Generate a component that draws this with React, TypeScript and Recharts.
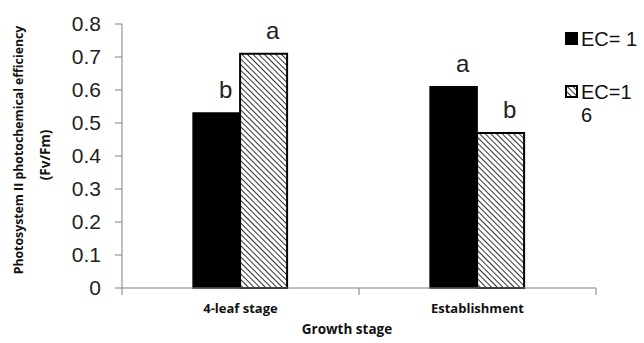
import React from 'react';
import { BarChart, Bar, XAxis, YAxis, Legend, LabelList } from 'recharts';

// PSII efficiency by growth stage, two salinity levels
const stages = ['4-leaf stage', 'Establishment'];
const ec1 = [0.53, 0.61];
const ec16 = [0.71, 0.47];
const ec1Letters = ['b', 'a'];
const ec16Letters = ['a', 'b'];
const yTicks = [0, 0.1, 0.2, 0.3, 0.4, 0.5, 0.6, 0.7, 0.8];

const data = stages.map((stage, i) => ({
  stage,
  ec1: ec1[i],
  ec16: ec16[i],
  ec1Letter: ec1Letters[i],
  ec16Letter: ec16Letters[i],
}));

const AXIS = '#808080';
const SANS = '"Liberation Sans", Arial, sans-serif';
const BOLD = '"Open Sans", sans-serif';

function HatchDefs({ id }: { id: string }) {
  return (
    <defs>
      <pattern id={id} patternUnits="userSpaceOnUse" width={4} height={4} patternTransform="rotate(-45)">
        <rect width={4} height={4} fill="#fff" />
        <line x1={0} y1={0} x2={0} y2={4} stroke="#000" strokeWidth={1.6} />
      </pattern>
    </defs>
  );
}

// significance letters over each bar
const letter = (props: any) => {
  const { x, y, width, value } = props;
  return (
    <text x={x + width / 2 + 9} y={y - 15} textAnchor="middle" fontFamily={SANS} fontSize={24} fill="#222">
      {value}
    </text>
  );
};

// category label plus tick marks on the band edges
const stageTick = (props: any) => {
  const { x, y, payload, index, visibleTicksCount } = props;
  const half = payload?.offset ?? 0;
  const axisY = y - 16;
  return (
    <g>
      {half > 0 && <line x1={x - half} x2={x - half} y1={axisY} y2={axisY + 7} stroke={AXIS} />}
      {half > 0 && index === visibleTicksCount - 1 && (
        <line x1={x + half} x2={x + half} y1={axisY} y2={axisY + 7} stroke={AXIS} />
      )}
      <text x={x} y={y} dy="0.71em" textAnchor="middle" fontFamily={BOLD} fontWeight={700} fontSize={13} fill="#111">
        {payload.value}
      </text>
    </g>
  );
};

const yLabel = () => (
  <g fontFamily={BOLD} fontWeight={700} fill="#111">
    <text
      x={18}
      y={150}
      transform="rotate(-90 18 150)"
      textAnchor="middle"
      dominantBaseline="central"
      fontSize={12.3}
    >
      Photosystem II photochemical efficiency
    </text>
    <text
      x={45}
      y={155}
      transform="rotate(-90 45 155)"
      textAnchor="middle"
      dominantBaseline="central"
      fontSize={13.5}
    >
      (Fv/Fm)
    </text>
  </g>
);

const xLabel = () => (
  <text x={347} y={334} textAnchor="middle" fontFamily={BOLD} fontWeight={700} fontSize={13.5} fill="#111">
    Growth stage
  </text>
);

const legendContent = (props: any) => {
  const { payload } = props;
  return (
    <div style={{ fontFamily: SANS, fontSize: 20, lineHeight: '23px', color: '#111' }}>
      {payload.map((item: any, i: number) => (
        <div key={item.value} style={{ display: 'flex', alignItems: 'flex-start', marginBottom: i === 0 ? 30 : 0 }}>
          <svg width={13} height={13} style={{ marginTop: 4, marginRight: 3, flex: 'none' }}>
            {item.dataKey === 'ec16' ? (
              <>
                <HatchDefs id="hatchLegend" />
                <rect x={1} y={1} width={11} height={11} fill="url(#hatchLegend)" stroke="#000" strokeWidth={2} />
              </>
            ) : (
              <rect x={0} y={0} width={13} height={13} fill="#000" />
            )}
          </svg>
          <div style={{ width: 59, wordBreak: 'break-all' }}>{item.value}</div>
        </div>
      ))}
    </div>
  );
};

export default function App() {
  return (
    <div style={{ position: 'absolute', left: 0, top: 0, width: 644, height: 343, background: '#fff' }}>
      <BarChart
        width={644}
        height={343}
        data={data}
        margin={{ top: 24, right: 48, left: 0, bottom: 0 }}
        barCategoryGap="30%"
        barGap={0}
      >
        <HatchDefs id="hatchBar" />
        <XAxis
          dataKey="stage"
          height={55}
          axisLine={{ stroke: AXIS }}
          tickLine={false}
          tickSize={7}
          tickMargin={9}
          tick={stageTick}
          interval={0}
          label={xLabel}
        />
        <YAxis
          domain={[0, 0.8]}
          ticks={yTicks}
          width={122}
          axisLine={{ stroke: AXIS }}
          tickLine={{ stroke: AXIS }}
          tickSize={7}
          tickMargin={14}
          tick={{ fontFamily: SANS, fontSize: 21, fill: '#222' }}
          label={yLabel}
        />
        <Legend
          layout="horizontal"
          align="center"
          verticalAlign="middle"
          content={legendContent}
          wrapperStyle={{ top: 28, left: 565, width: 79, height: 'auto' }}
        />
        <Bar dataKey="ec1" name="EC= 1" fill="#000" stroke="#000" strokeWidth={1.5} isAnimationActive={false}>
          <LabelList dataKey="ec1Letter" content={letter} />
        </Bar>
        <Bar dataKey="ec16" name="EC=16" fill="url(#hatchBar)" stroke="#000" strokeWidth={2} isAnimationActive={false}>
          <LabelList dataKey="ec16Letter" content={letter} />
        </Bar>
      </BarChart>
    </div>
  );
}
